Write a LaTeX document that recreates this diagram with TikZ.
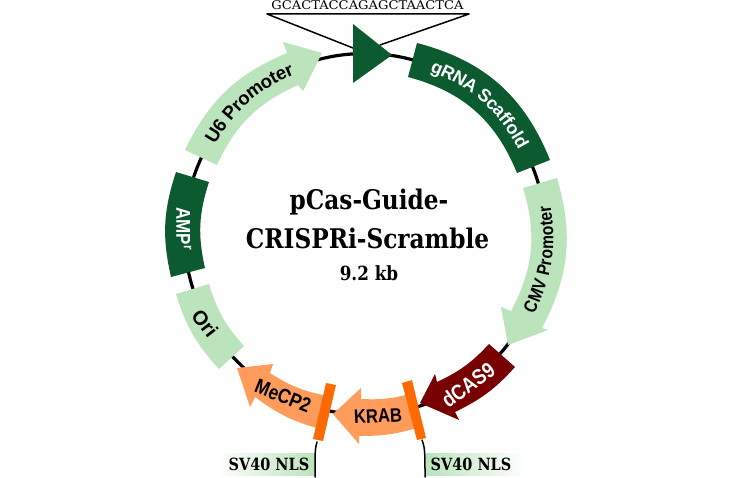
\documentclass[tikz,border=0pt]{standalone}
\usepackage{fontspec}
\usepackage{xcolor}
\usepackage{tikz}
\usetikzlibrary{decorations.text}
\setmainfont{Liberation Sans}
\newfontfamily\narrowfont[FakeStretch=0.85]{Liberation Sans}
\newfontfamily\titlefont[FakeStretch=0.86]{DejaVu Serif}
\newfontfamily\seqfont[FakeStretch=1.09]{DejaVu Serif}
\definecolor{palegreen}{HTML}{BBE3BC}
\definecolor{deepgreen}{HTML}{0B5A30}
\definecolor{deepred}{HTML}{780000}
\definecolor{peach}{HTML}{FF9C5C}
\definecolor{signal}{HTML}{FF6A00}
\begin{document}
\begin{tikzpicture}[x=1pt, y=-1pt, line cap=round, line join=round,
    backbone/.style={line width=3.2pt},
    thinline/.style={line width=1.5pt},
    genelabel/.style={font=\narrowfont\fontsize{#1}{#1}\selectfont\bfseries},
    nlslabel/.style={font=\titlefont\fontsize{16.8}{17}\selectfont\bfseries, anchor=base},
    curvedlabel/.style={postaction={decorate, decoration={text along path, raise=-6.5pt,
      text align=center, text color=#1, text={|\curvedfont|\curvedtext}}}}]
  \useasboundingbox (0,0) rectangle (730,478);
  %--- Squelette
    \draw[backbone] (365,234) circle[radius=180.5pt];
  %--- Sequence
    \coordinate (SL) at (267,14);
    \coordinate (SR) at (469,14);
    \coordinate (GL) at (353,48);
    \coordinate (GR) at (380,45);
    \draw[thinline] (GL) -- (SL) -- (SR) -- (GR);
    \node (SEQ) at (367.5,5) {\seqfont\fontsize{12}{12}\selectfont GCACTACCAGAGCTAACTCA};
  %--- Guide
    \fill[deepgreen] (353,24) -- (392,55) -- (353,83) -- cycle;
  %--- Blocs
    \fill[deepgreen] (417,43) to[bend left=26.7] (550,160) -- (517,173) to[bend right=26.4] (408,77) -- cycle;
    \fill[deepgreen] (176,172) to[bend right=15.5] (171,277) -- (205,268) to[bend left=15.3] (209,182) -- cycle;
    \fill[palegreen] (176,294) to[bend right=12.7] (219,369) -- (244,346) to[bend left=12.6] (209,284) -- cycle;
  %--- Promoteurs
    \fill[palegreen] (185,150) to[bend left=20.7] (287,53) -- (283,42) -- (322,53) -- (303,91) -- (298,85)
      to[bend right=20.4] (217,165) -- cycle;
    \fill[palegreen] (557,178) to[bend left=22] (542,328) -- (548,330) -- (508,345) -- (501,307) -- (511,311)
      to[bend right=22.4] (523,188) -- cycle;
  %--- dCAS9, KRAB, MeCP2
    \fill[deepred] (515,367) to[bend left=11] (455,412) -- (459,420) -- (420,403) -- (435,374) -- (437,382)
      to[bend right=11] (489,344) -- cycle;
    \fill[peach] (420,427) to[bend left=8.5] (359,436) -- (359,444) -- (333,414) -- (361,388) -- (361,399)
      to[bend right=8.5] (410,394) -- cycle;
    \fill[peach] (320,429) to[bend left=10.5] (255,397) -- (250,407) -- (237,368) -- (273,364) -- (270,373)
      to[bend right=11] (328,396) -- cycle;
  %--- NLS
    \shade[left color=white, right color=palegreen] (217,453) rectangle (315,475);
    \shade[left color=palegreen, right color=white] (426,453) rectangle (525,475);
    \fill[signal] (326,383) -- (336,385) -- (323,441) -- (313,439) -- cycle;
    \fill[signal] (402,383) -- (412,380) -- (426,438) -- (417,440) -- cycle;
    \coordinate (NA) at (317,442);
    \coordinate (NB) at (422,440);
    \draw[thinline] (NA) .. controls (315,449) and (315,452) .. (315,477);
    \draw[thinline] (NB) .. controls (425,448) and (425,452) .. (425,477);
    \node[nlslabel] (NLSA) at (269,470) {SV40 NLS};
    \node[nlslabel] (NLSB) at (471,470) {SV40 NLS};
  %--- Noms
    \def\curvedtext{U6 Promoter}
    \def\curvedfont{\fontsize{18.7}{19}\selectfont\bfseries}
    \path[curvedlabel=black] (209,142) to[bend left=18] (293,68);
    \def\curvedtext{gRNA Scaffold}
    \def\curvedfont{\fontsize{18}{18}\selectfont\bfseries}
    \path[curvedlabel=white] (431,65) to[bend left=20.3] (525,148);
    \def\curvedtext{CMV Promoter}
    \def\curvedfont{\narrowfont\fontsize{18.3}{18}\selectfont\bfseries}
    \path[curvedlabel=black] (528,312) to[bend right=17.2] (544,206);
    \node[genelabel=20, text=white, rotate=-90] (AMP) at (184,229) {AMP\textsuperscript{r}};
    \node[rotate=-52, font=\fontsize{20}{20}\selectfont\bfseries] (ORI) at (205,323) {Ori};
    \node[genelabel=21.5, text=white, rotate=36] (DCAS) at (468,385) {dCAS9};
    \node[genelabel=19.5, rotate=3] (KRAB) at (378,416) {KRAB};
    \node[genelabel=20.5, rotate=-22] (MECP) at (283,396) {MeCP2};
  %--- Titre
    \node[anchor=base, font=\titlefont\fontsize{27}{27}\selectfont\bfseries] (TA) at (369,210) {pCas-Guide-};
    \node[anchor=base, font=\titlefont\fontsize{27}{27}\selectfont\bfseries] (TB) at (367.5,248) {CRISPRi-Scramble};
    \node[anchor=base, font=\titlefont\fontsize{19.5}{20}\selectfont\bfseries] (TC) at (369,280) {9.2 kb};
  %---
\end{tikzpicture}
\end{document}
